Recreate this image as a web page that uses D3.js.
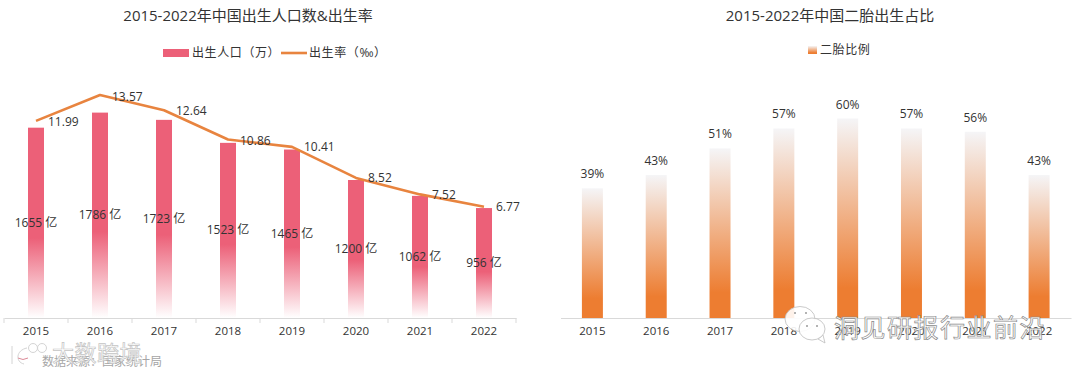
<!DOCTYPE html>
<html>
<head>
<meta charset="utf-8">
<script src="https://cdn.jsdelivr.net/npm/d3@7"></script>
<style>
  html, body { margin: 0; padding: 0; background: #fff; }
  svg { display: block; }
  text { font-family: "Open Sans", "Noto Sans CJK SC", sans-serif; fill: #333; }
  .chart-title { font-size: 15px; font-weight: 400; text-anchor: middle; }
  .legend-label { font-size: 12px; letter-spacing: 0.6px; }
  .tick-label { font-size: 11.5px; text-anchor: middle; }
  .value-label { font-size: 12px; }
</style>
</head>
<body>
<svg id="chart"></svg>
<script>
const width = 1080;
const height = 374;

// Values
const years = ["2015", "2016", "2017", "2018", "2019", "2020", "2021", "2022"];
const birthCounts = [1655, 1786, 1723, 1523, 1465, 1200, 1062, 956];
const birthRates = [11.99, 13.57, 12.64, 10.86, 10.41, 8.52, 7.52, 6.77];
const secondChildShare = [39, 43, 51, 57, 60, 57, 56, 43];

// Hand nudges for the rate labels, they sit differently around the line
const rateLabelDy = [5, 6, 5, 6, 4, 4, 5, 4];

const svg = d3.select("#chart")
  .attr("width", width)
  .attr("height", height)
  .attr("viewBox", `0 0 ${width} ${height}`);

const defs = svg.append("defs");

const pinkFade = defs.append("linearGradient")
  .attr("id", "pink-fade")
  .attr("x1", 0).attr("y1", 0).attr("x2", 0).attr("y2", 1);
pinkFade.append("stop").attr("offset", "0%").attr("stop-color", "#ec6078");
pinkFade.append("stop").attr("offset", "58%").attr("stop-color", "#ec6078");
pinkFade.append("stop").attr("offset", "100%").attr("stop-color", "#ffffff");

const orangeFade = defs.append("linearGradient")
  .attr("id", "orange-fade")
  .attr("x1", 0).attr("y1", 0).attr("x2", 0).attr("y2", 1);
orangeFade.append("stop").attr("offset", "0%").attr("stop-color", "#f5f5f7");
orangeFade.append("stop").attr("offset", "85%").attr("stop-color", "#ed7d31");
orangeFade.append("stop").attr("offset", "100%").attr("stop-color", "#ed7d31");

const baseY = 318;

function drawAxis(x) {
  const axis = svg.append("g")
    .attr("transform", `translate(0,${baseY})`)
    .call(d3.axisBottom(x).tickSize(0).tickPadding(9));
  axis.select(".domain").attr("stroke", "#d9d9d9").attr("stroke-width", 1.2);
  axis.selectAll("text").attr("class", "tick-label");
  return axis;
}

// Left chart: births as bars, birth rate as line
const xLeft = d3.scaleBand().domain(years).range([4, 516]);
const yCount = d3.scaleLinear().domain([0, 2000]).range([baseY, 88]);
const yRate = d3.scaleLinear().domain([0, 16]).range([baseY, 55]);
const leftBarWidth = 16;
const centerLeft = d => xLeft(d) + xLeft.bandwidth() / 2;

svg.append("text")
  .attr("class", "chart-title")
  .attr("x", 248)
  .attr("y", 21)
  .text("2015-2022年中国出生人口数&出生率");

const leftAxis = drawAxis(xLeft);
// small separator ticks between the years
leftAxis.selectAll(".sep")
  .data(years.concat("end"))
  .enter()
  .append("line")
  .attr("class", "sep")
  .attr("x1", d => (d === "end" ? 516 : xLeft(d)))
  .attr("x2", d => (d === "end" ? 516 : xLeft(d)))
  .attr("y1", 0)
  .attr("y2", 5)
  .attr("stroke", "#d9d9d9");

svg.append("g")
  .selectAll("rect")
  .data(birthCounts)
  .enter()
  .append("rect")
  .attr("x", (d, i) => centerLeft(years[i]) - leftBarWidth / 2)
  .attr("y", d => yCount(d))
  .attr("width", leftBarWidth)
  .attr("height", d => baseY - yCount(d))
  .attr("fill", "url(#pink-fade)");

const rateLine = d3.line()
  .x((d, i) => centerLeft(years[i]))
  .y(d => yRate(d));

svg.append("path")
  .datum(birthRates)
  .attr("fill", "none")
  .attr("stroke", "#e8843f")
  .attr("stroke-width", 2.6)
  .attr("stroke-linejoin", "round")
  .attr("d", rateLine);

svg.append("g")
  .selectAll("text")
  .data(birthCounts)
  .enter()
  .append("text")
  .attr("class", "value-label")
  .attr("text-anchor", "middle")
  .attr("x", (d, i) => centerLeft(years[i]))
  .attr("y", d => (yCount(d) + baseY) / 2 + 4)
  .text(d => `${d} 亿`);

svg.append("g")
  .selectAll("text")
  .data(birthRates)
  .enter()
  .append("text")
  .attr("class", "value-label")
  .attr("x", (d, i) => centerLeft(years[i]) + 12)
  .attr("y", (d, i) => yRate(d) + rateLabelDy[i])
  .text(d => d.toFixed(2));

// Left legend
svg.append("rect")
  .attr("x", 163).attr("y", 49).attr("width", 26).attr("height", 8)
  .attr("fill", "#ec6078");
svg.append("text").attr("class", "legend-label")
  .attr("x", 192).attr("y", 57).text("出生人口（万）");
svg.append("line")
  .attr("x1", 281).attr("x2", 307).attr("y1", 53).attr("y2", 53)
  .attr("stroke", "#e8843f").attr("stroke-width", 2.6);
svg.append("text").attr("class", "legend-label")
  .attr("x", 309).attr("y", 57).text("出生率（‰）");

svg.append("text")
  .attr("x", 42).attr("y", 366)
  .style("font-size", "12px")
  .style("fill", "#a6a6a6")
  .text("数据来源：国家统计局");

// Right chart: share of second births
const xRight = d3.scaleBand().domain(years).range([560.5, 1071]);
const yShare = d3.scaleLinear().domain([0, 60]).range([baseY, 118.5]);
const rightBarWidth = 21;
const centerRight = d => xRight(d) + xRight.bandwidth() / 2;

svg.append("text")
  .attr("class", "chart-title")
  .attr("x", 830)
  .attr("y", 21)
  .text("2015-2022年中国二胎出生占比");

svg.append("g")
  .selectAll("rect")
  .data(secondChildShare)
  .enter()
  .append("rect")
  .attr("x", (d, i) => centerRight(years[i]) - rightBarWidth / 2)
  .attr("y", d => yShare(d))
  .attr("width", rightBarWidth)
  .attr("height", d => baseY - yShare(d))
  .attr("fill", "url(#orange-fade)");

drawAxis(xRight);

svg.append("g")
  .selectAll("text")
  .data(secondChildShare)
  .enter()
  .append("text")
  .attr("class", "value-label")
  .attr("text-anchor", "middle")
  .attr("x", (d, i) => centerRight(years[i]))
  .attr("y", d => yShare(d) - 10)
  .text(d => `${d}%`);

// Right legend
svg.append("rect")
  .attr("x", 808).attr("y", 46).attr("width", 9).attr("height", 8)
  .attr("fill", "url(#orange-fade)");
svg.append("text").attr("class", "legend-label")
  .attr("x", 820).attr("y", 54).text("二胎比例");

// Repost watermarks sitting on top of the picture
function watermark(label, x, y, size, spacing, edge) {
  svg.append("text")
    .attr("x", x).attr("y", y)
    .style("font-size", `${size}px`)
    .style("letter-spacing", `${spacing}px`)
    .style("fill", "#fff")
    .style("fill-opacity", 0.85)
    .style("stroke", edge)
    .style("stroke-width", 0.7)
    .text(label);
}
watermark("大数跨境", 52, 361, 22, 0.5, "#c4c4c4");
watermark("洞见研报行业前沿", 834, 337, 25, 1.5, "#8a8a8a");

// WeChat style bubbles in front of the right watermark
const bubbles = svg.append("g")
  .attr("fill", "#fff")
  .attr("fill-opacity", 0.9)
  .attr("stroke", "#bdbdbd")
  .attr("stroke-width", 0.8);
bubbles.append("ellipse").attr("cx", 800).attr("cy", 319).attr("rx", 15).attr("ry", 12.5);
bubbles.append("path").attr("d", "M818 339 L825 343 L823 335 Z");
bubbles.append("ellipse").attr("cx", 812).attr("cy", 329).attr("rx", 13).attr("ry", 11);
const eyes = svg.append("g").attr("fill", "#9a9a9a");
[[795, 313], [806, 313], [807, 326], [817, 326]].forEach(([cx, cy]) => {
  eyes.append("circle").attr("cx", cx).attr("cy", cy).attr("r", 1);
});

// Small "100" logo in front of the left watermark
const logo = svg.append("g")
  .attr("fill", "none")
  .attr("stroke", "#d4d4d4")
  .attr("stroke-width", 1);
logo.append("path").attr("d", "M12 346 L12 364 M27 348 C16 350 15 362 24 364");
logo.append("circle").attr("cx", 33).attr("cy", 348).attr("r", 4.5);
logo.append("circle").attr("cx", 42).attr("cy", 348).attr("r", 4.5);
logo.append("path").attr("d", "M18 358 Q23 361 28 358").attr("stroke", "#dc8a98");
</script>
</body>
</html>
